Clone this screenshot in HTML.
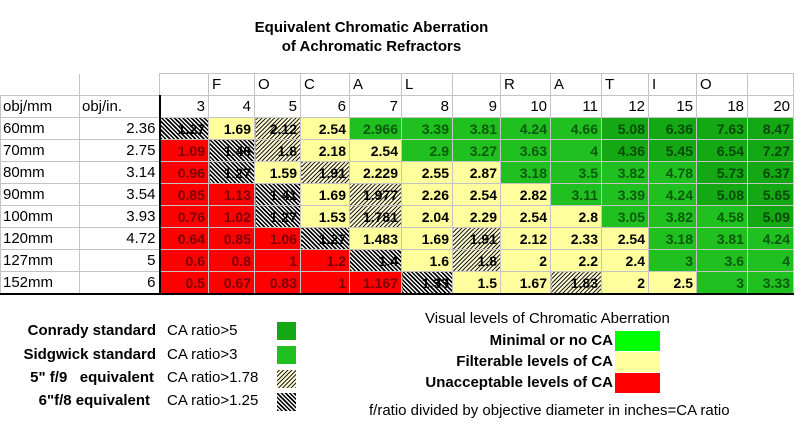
<!DOCTYPE html><html><head><style>
body{margin:0;width:797px;height:426px;background:#fff;overflow:hidden;font-family:"Liberation Sans",Arial,sans-serif;position:relative}
.t{position:absolute;left:0;width:797px;text-align:center;font-weight:bold;font-size:15px;left:-27px}
table{position:absolute;left:0;top:73px;border-collapse:collapse;table-layout:fixed}
td{border:1px solid #c4c4c4;height:21px;padding:0 3px 0 2px;font-size:14px;text-align:right;white-space:nowrap;overflow:hidden}
tr.h td{text-align:left;font-size:15px;padding-left:3px}
td.l{text-align:left;font-size:15px}
td.n{font-size:15px}
td.R,td.Y,td.G,td.D,td.H,td.B{font-weight:bold}
.R{background:#f00;color:#7a0000}
.Y{background:#ffff9e;color:#000}
.G{background:#20c020;color:#0b5a0b}
.D{background:#14a814;color:#074a07}
.H{background:repeating-linear-gradient(-45deg,#222 0 1px,#fffbd0 1px 3px);color:#000}
.B{background:repeating-linear-gradient(45deg,#000 0 1.5px,#fff 1.5px 3px);color:#000}
.a{position:absolute;font-size:15px;white-space:nowrap}
.b{font-weight:bold}
.sw{position:absolute;width:20px;height:20px}
</style></head><body>
<div class="t" style="top:19px">Equivalent Chromatic Aberration</div>
<div class="t" style="top:38px">of Achromatic Refractors</div>
<table>
<colgroup><col style="width:79px"><col style="width:80px"><col style="width:49px"><col style="width:46px"><col style="width:46px"><col style="width:49px"><col style="width:52px"><col style="width:51px"><col style="width:48px"><col style="width:50px"><col style="width:51px"><col style="width:47px"><col style="width:48px"><col style="width:51px"><col style="width:46px"></colgroup>
<tr class="h"><td style="border-left:none;border-top:none"></td><td style="border-top:none"></td><td></td><td>F</td><td>O</td><td>C</td><td>A</td><td>L</td><td></td><td>R</td><td>A</td><td>T</td><td>I</td><td>O</td><td></td></tr>
<tr><td class="l">obj/mm</td><td class="l">obj/in.</td><td class="n" style="border-left:2px solid #000">3</td><td class="n">4</td><td class="n">5</td><td class="n">6</td><td class="n">7</td><td class="n">8</td><td class="n">9</td><td class="n">10</td><td class="n">11</td><td class="n">12</td><td class="n">15</td><td class="n">18</td><td class="n">20</td></tr>
<tr><td class="l">60mm</td><td class="n">2.36</td><td class="B" style="border-left:2px solid #000">1.27</td><td class="Y">1.69</td><td class="H">2.12</td><td class="Y">2.54</td><td class="G">2.966</td><td class="G">3.39</td><td class="G">3.81</td><td class="G">4.24</td><td class="G">4.66</td><td class="D">5.08</td><td class="D">6.36</td><td class="D">7.63</td><td class="D">8.47</td></tr>
<tr><td class="l">70mm</td><td class="n">2.75</td><td class="R" style="border-left:2px solid #000">1.09</td><td class="B">1.46</td><td class="H">1.8</td><td class="Y">2.18</td><td class="Y">2.54</td><td class="G">2.9</td><td class="G">3.27</td><td class="G">3.63</td><td class="G">4</td><td class="D">4.36</td><td class="D">5.45</td><td class="D">6.54</td><td class="D">7.27</td></tr>
<tr><td class="l">80mm</td><td class="n">3.14</td><td class="R" style="border-left:2px solid #000">0.96</td><td class="B">1.27</td><td class="Y">1.59</td><td class="H">1.91</td><td class="Y">2.229</td><td class="Y">2.55</td><td class="Y">2.87</td><td class="G">3.18</td><td class="G">3.5</td><td class="G">3.82</td><td class="G">4.78</td><td class="D">5.73</td><td class="D">6.37</td></tr>
<tr><td class="l">90mm</td><td class="n">3.54</td><td class="R" style="border-left:2px solid #000">0.85</td><td class="R">1.13</td><td class="B">1.41</td><td class="Y">1.69</td><td class="H">1.977</td><td class="Y">2.26</td><td class="Y">2.54</td><td class="Y">2.82</td><td class="G">3.11</td><td class="G">3.39</td><td class="G">4.24</td><td class="D">5.08</td><td class="D">5.65</td></tr>
<tr><td class="l">100mm</td><td class="n">3.93</td><td class="R" style="border-left:2px solid #000">0.76</td><td class="R">1.02</td><td class="B">1.27</td><td class="Y">1.53</td><td class="H">1.781</td><td class="Y">2.04</td><td class="Y">2.29</td><td class="Y">2.54</td><td class="Y">2.8</td><td class="G">3.05</td><td class="G">3.82</td><td class="G">4.58</td><td class="D">5.09</td></tr>
<tr><td class="l">120mm</td><td class="n">4.72</td><td class="R" style="border-left:2px solid #000">0.64</td><td class="R">0.85</td><td class="R">1.06</td><td class="B">1.27</td><td class="Y">1.483</td><td class="Y">1.69</td><td class="H">1.91</td><td class="Y">2.12</td><td class="Y">2.33</td><td class="Y">2.54</td><td class="G">3.18</td><td class="G">3.81</td><td class="G">4.24</td></tr>
<tr><td class="l">127mm</td><td class="n">5</td><td class="R" style="border-left:2px solid #000">0.6</td><td class="R">0.8</td><td class="R">1</td><td class="R">1.2</td><td class="B">1.4</td><td class="Y">1.6</td><td class="H">1.8</td><td class="Y">2</td><td class="Y">2.2</td><td class="Y">2.4</td><td class="G">3</td><td class="G">3.6</td><td class="G">4</td></tr>
<tr style="border-bottom:2px solid #000"><td class="l">152mm</td><td class="n">6</td><td class="R" style="border-left:2px solid #000">0.5</td><td class="R">0.67</td><td class="R">0.83</td><td class="R">1</td><td class="R">1.167</td><td class="B">1.33</td><td class="Y">1.5</td><td class="Y">1.67</td><td class="H">1.83</td><td class="Y">2</td><td class="Y">2.5</td><td class="G">3</td><td class="G">3.33</td></tr>
</table>
<div class="a b" style="right:641px;top:322px">Conrady standard</div>
<div class="a b" style="right:641px;top:346px">Sidgwick standard</div>
<div class="a b" style="right:643px;top:369px">5" f/9&nbsp;&nbsp; equivalent</div>
<div class="a b" style="right:647px;top:392px">6"f/8 equivalent</div>
<div class="a" style="left:167px;top:322px">CA ratio&gt;5</div>
<div class="a" style="left:167px;top:346px">CA ratio&gt;3</div>
<div class="a" style="left:167px;top:369px">CA ratio&gt;1.78</div>
<div class="a" style="left:167px;top:392px">CA ratio&gt;1.25</div>
<div class="sw D" style="left:277px;top:322px;width:19px;height:18px"></div>
<div class="sw G" style="left:277px;top:346px;width:19px;height:18px"></div>
<div class="sw H" style="left:277px;top:370px;width:19px;height:18px"></div>
<div class="sw B" style="left:277px;top:393px;width:19px;height:18px"></div>
<div class="a" style="left:425px;top:310px">Visual levels of Chromatic Aberration</div>
<div class="a b" style="right:184px;top:332px">Minimal or no CA</div>
<div class="a b" style="right:184px;top:353px">Filterable levels of CA</div>
<div class="a b" style="right:184px;top:374px">Unacceptable levels of CA</div>
<div class="sw" style="left:615px;top:331px;width:45px;height:20px;background:#0f0"></div>
<div class="sw" style="left:615px;top:352px;width:45px;height:20px;background:#ffff9e"></div>
<div class="sw" style="left:615px;top:373px;width:45px;height:20px;background:#f00"></div>
<div class="a" style="left:369px;top:402px">f/ratio divided by objective diameter in inches=CA ratio</div>
</body></html>
